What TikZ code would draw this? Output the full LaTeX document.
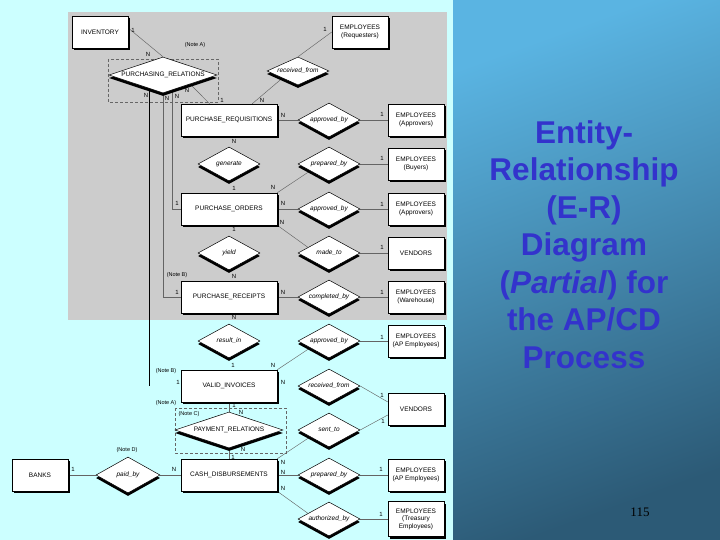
\documentclass[tikz,border=0pt]{standalone}
\usepackage{fontspec}
\setmainfont{Liberation Sans}
\newfontfamily\serifnum{Liberation Serif}
\usetikzlibrary{shapes.geometric,shadows}
\definecolor{bgcyan}{RGB}{204,255,255}
\definecolor{boxgray}{RGB}{204,204,204}
\definecolor{titleblue}{RGB}{51,51,204}
\definecolor{lnc}{RGB}{100,100,100}
\definecolor{paneltop}{RGB}{90,180,226}
\definecolor{panelbot}{RGB}{44,90,118}
\pgfdeclarelayer{bglayer}
\pgfdeclarelayer{linelayer}
\pgfsetlayers{bglayer,linelayer,main}
\begin{document}
\begin{tikzpicture}[x=1pt,y=-1pt,
  ent/.style={rectangle, draw=black, line width=0.5pt, fill=white, minimum width=56pt, minimum height=32pt, inner sep=1pt, align=center, font=\fontsize{6.5}{7.5}\selectfont, drop shadow={shadow xshift=2pt, shadow yshift=-2pt, fill=black, opacity=1}},
  bigent/.style={ent, minimum width=96pt},
  rel/.style={diamond, draw=black, line width=0.5pt, fill=white, aspect=2, inner sep=0pt, minimum width=62pt, minimum height=34pt, font=\fontsize{6.5}{7.5}\selectfont\itshape, drop shadow={shadow xshift=0pt, shadow yshift=-3pt, fill=black, opacity=1}},
  bigrel/.style={rel, aspect=3, minimum width=108pt, minimum height=36pt, font=\fontsize{6.5}{7.5}\selectfont},
  card/.style={inner sep=0pt, font=\fontsize{6}{7}\selectfont},
  note/.style={inner sep=0pt, font=\fontsize{5.5}{6.5}\selectfont},
  lnk/.style={draw=lnc, line width=0.45pt},
  notebox/.style={draw=black!60, line width=0.5pt, dash pattern=on 3pt off 2pt},
]
\useasboundingbox (0,0) rectangle (720,540);
\begin{pgfonlayer}{bglayer}
\fill[bgcyan] (0,0) rectangle (453,540);
\fill[boxgray] (68,12) rectangle (447,320);
\shade[top color=paneltop, bottom color=panelbot, shading angle=20] (453,0) rectangle (720,540);
\end{pgfonlayer}

% entities
\node[ent] (inv) at (100,32) {INVENTORY};
\node[ent] (empreq) at (360,32) {EMPLOYEES\\(Requesters)};
\node[bigent] (pr) at (229,120) {PURCHASE\_REQUISITIONS};
\node[ent] (empappr1) at (416,120) {EMPLOYEES\\(Approvers)};
\node[ent] (empbuy) at (416,164) {EMPLOYEES\\(Buyers)};
\node[bigent] (po) at (229,209) {PURCHASE\_ORDERS};
\node[ent] (empappr2) at (416,209) {EMPLOYEES\\(Approvers)};
\node[ent] (vend1) at (416,253) {VENDORS};
\node[bigent] (prc) at (229,297) {PURCHASE\_RECEIPTS};
\node[ent] (empwh) at (416,297) {EMPLOYEES\\(Warehouse)};
\node[ent] (empap1) at (416,341) {EMPLOYEES\\(AP Employees)};
\node[bigent] (vi) at (229,386) {VALID\_INVOICES};
\node[ent] (vend2) at (416,409) {VENDORS};
\node[bigent] (cd) at (229,475) {CASH\_DISBURSEMENTS};
\node[ent] (banks) at (40,475) {BANKS};
\node[ent] (empap2) at (416,475) {EMPLOYEES\\(AP Employees)};
\node[ent, minimum height=35pt] (emptr) at (416,519) {EMPLOYEES\\(Treasury\\Employees)};

% relationships
\node[bigrel] (purrel) at (163,75) {PURCHASING\_RELATIONS};
\node[rel, minimum height=28pt] (recfrom1) at (298,71) {received\_from};
\node[rel] (appr1) at (329,120) {approved\_by};
\node[rel] (gen) at (229,164) {generate};
\node[rel] (prep1) at (329,164) {prepared\_by};
\node[rel] (appr2) at (329,209) {approved\_by};
\node[rel] (yld) at (229,253) {yield};
\node[rel] (madeto) at (329,253) {made\_to};
\node[rel] (compl) at (329,297) {completed\_by};
\node[rel] (result) at (229,341) {result\_in};
\node[rel] (appr3) at (329,341) {approved\_by};
\node[rel] (recfrom2) at (329,386) {received\_from};
\node[bigrel] (payrel) at (229,430) {PAYMENT\_RELATIONS};
\node[rel] (sent) at (329,430) {sent\_to};
\node[rel, minimum width=64pt, minimum height=36pt] (paid) at (128,475) {paid\_by};
\node[rel] (prep2) at (329,475) {prepared\_by};
\node[rel] (auth) at (329,519) {authorized\_by};

% connectors
\begin{pgfonlayer}{linelayer}
\draw[notebox] (108,59) rectangle (218,102);
\draw[notebox] (175,408) rectangle (286,453);
\draw[lnk] (inv.8) -- (purrel.north);
\draw[lnk] (empreq.west) -- (recfrom1.north);
\draw[lnk] (recfrom1.south west) -- (pr.35);
\draw[lnk] (purrel.south east) -- (pr.140);
\draw[lnk] (purrel.-59) |- (po.west);
\draw[lnk] (purrel.south) |- (prc.west);
\draw[black, line width=0.6pt] (purrel.224) -- (purrel.224 |- vi.west);
\draw[lnk] (pr.east) -- (appr1.west);
\draw[lnk] (appr1.east) -- (empappr1.west);
\draw[lnk] (prep1.east) -- (empbuy.west);
\draw[lnk] (po.north east) -- (prep1.200);
\draw[lnk] (po.east) -- (appr2.west);
\draw[lnk] (appr2.east) -- (empappr2.west);
\draw[lnk] (po.south east) -- (madeto.165);
\draw[lnk] (madeto.east) -- (vend1.west);
\draw[lnk] (prc.east) -- (compl.west);
\draw[lnk] (compl.east) -- (empwh.west);
\draw[lnk] (vi.north east) -- (appr3.200);
\draw[lnk] (appr3.east) -- (empap1.west);
\draw[lnk] (recfrom2.east) -- (vend2.166);
\draw[lnk] (sent.east) -- (vend2.192);
\draw[lnk] (vi.south) -- (payrel.north);
\draw[lnk] (payrel.south) -- (cd.north);
\draw[lnk] (cd.north east) -- (sent.200);
\draw[lnk] (cd.east) -- (prep2.west);
\draw[lnk] (prep2.east) -- (empap2.west);
\draw[lnk] (cd.south east) -- (auth.165);
\draw[lnk] (auth.east) -- (emptr.west);
\draw[lnk] (banks.east) -- (paid.west);
\draw[lnk] (paid.east) -- (cd.west);
\end{pgfonlayer}

% cardinalities
\node[card] (k1) at (133,30) {1};
\node[card] (k2) at (148,54) {N};
\node[card] (k3) at (325,29) {1};
\node[card] (k4) at (262,100) {N};
\node[card] (k5) at (146,95) {N};
\node[card] (k6) at (167,98) {N};
\node[card] (k7) at (177,96) {N};
\node[card] (k8) at (187,90) {N};
\node[card] (k9) at (222,100) {1};
\node[card] (k10) at (283,115) {N};
\node[card] (k11) at (382,114) {1};
\node[card] (k12) at (234,141) {N};
\node[card] (k13) at (382,158) {1};
\node[card] (k14) at (234,188) {1};
\node[card] (k15) at (273,187) {N};
\node[card] (k16) at (177,203) {1};
\node[card] (k17) at (283,203) {N};
\node[card] (k18) at (382,204) {1};
\node[card] (k19) at (282,222) {N};
\node[card] (k20) at (234,229) {1};
\node[card] (k21) at (382,247) {1};
\node[card] (k22) at (234,276) {N};
\node[card] (k23) at (177,292) {1};
\node[card] (k24) at (283,292) {N};
\node[card] (k25) at (382,292) {1};
\node[card] (k26) at (234,317) {N};
\node[card] (k27) at (233,365) {1};
\node[card] (k28) at (273,365) {N};
\node[card] (k29) at (382,337) {1};
\node[card] (k30) at (178,382) {1};
\node[card] (k31) at (283,382) {N};
\node[card] (k32) at (382,395) {1};
\node[card] (k33) at (234,405) {1};
\node[card] (k34) at (241,412) {N};
\node[card] (k35) at (383,421) {1};
\node[card] (k36) at (243,449) {N};
\node[card] (k37) at (233,457) {1};
\node[card] (k38) at (283,462) {N};
\node[card] (k39) at (283,472) {N};
\node[card] (k40) at (381,469) {1};
\node[card] (k41) at (283,488) {N};
\node[card] (k42) at (381,514) {1};
\node[card] (k43) at (73,469) {1};
\node[card] (k44) at (174,469) {N};

% notes
\node[note] (na1) at (195,45) {(Note A)};
\node[note] (nb1) at (177,275) {(Note B)};
\node[note] (nb2) at (166,371) {(Note B)};
\node[note] (na2) at (166,403) {(Note A)};
\node[note] (nc) at (189,414) {(Note C)};
\node[note] (nd) at (127,450) {(Note D)};

% title panel
\node[anchor=north, inner sep=0pt, align=center, text=titleblue, font=\fontsize{31.5}{37.5}\selectfont\bfseries] (title) at (584,120) {Entity-\\Relationship\\(E-R)\\Diagram\\(\textit{Partial}) for\\the AP/CD\\Process};
\node[inner sep=0pt, text=black, font=\serifnum\fontsize{13}{15}\selectfont] (pagenum) at (640,512) {115};
\end{tikzpicture}
\end{document}
